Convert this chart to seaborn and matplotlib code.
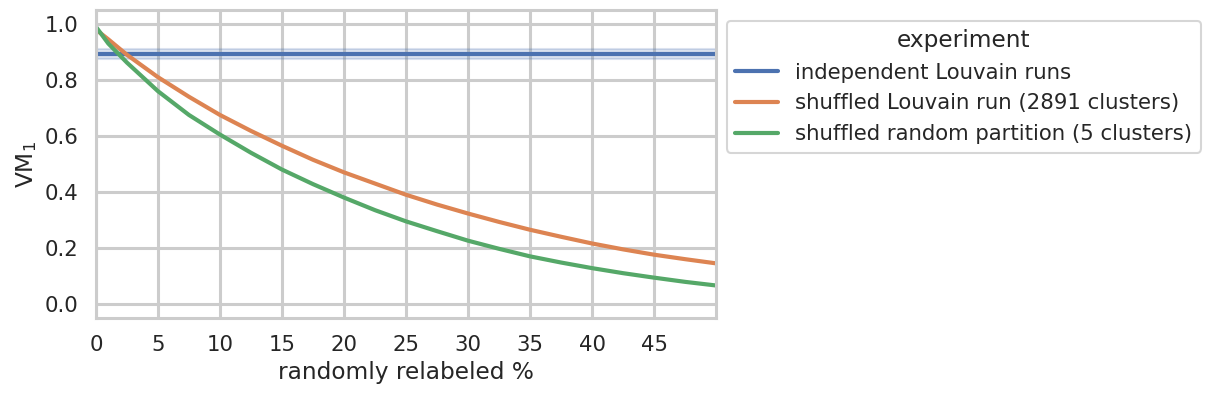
import numpy as np
import pandas as pd
import matplotlib
matplotlib.use("Agg")
import matplotlib.pyplot as plt
import seaborn as sns

# data
relabeled = [0, 1, 2.5, 5, 7.5, 10, 12.5, 15, 17.5, 20, 22.5, 25,
             27.5, 30, 32.5, 35, 37.5, 40, 42.5, 45, 47.5, 50]
louvain_shuffled = [0.98, 0.945, 0.89, 0.81, 0.74, 0.675, 0.618, 0.565, 0.515, 0.47, 0.43, 0.39,
                    0.355, 0.323, 0.293, 0.265, 0.24, 0.216, 0.195, 0.176, 0.16, 0.145]
random_shuffled = [0.99, 0.93, 0.862, 0.76, 0.675, 0.605, 0.54, 0.48, 0.428, 0.38, 0.335, 0.295,
                   0.26, 0.226, 0.197, 0.17, 0.148, 0.128, 0.11, 0.094, 0.079, 0.066]
independent_runs = [0.876, 0.885, 0.893, 0.901, 0.910]

labels = ['independent Louvain runs',
          'shuffled Louvain run (2891 clusters)',
          'shuffled random partition (5 clusters)']

rows = []
for x in relabeled:
    for v in independent_runs:
        rows.append((x, v, labels[0]))
for x, v in zip(relabeled, louvain_shuffled):
    rows.append((x, v, labels[1]))
for x, v in zip(relabeled, random_shuffled):
    rows.append((x, v, labels[2]))
df = pd.DataFrame(rows, columns=['randomly relabeled %', 'VM', 'experiment'])

sns.set_theme(context='talk', style='whitegrid', font_scale=0.93,
              rc={'grid.linewidth': 2.2, 'axes.linewidth': 2.2})

fig = plt.figure(figsize=(12.14, 3.98), dpi=100)
ax = fig.add_axes([0.079, 0.201, 0.511, 0.774])
sns.lineplot(data=df, x='randomly relabeled %', y='VM', hue='experiment',
             hue_order=labels, errorbar=('pi', 100), linewidth=3, ax=ax)
ax.set_xlim(0, 50)
ax.set_ylim(-0.05, 1.05)
ax.set_xticks(np.arange(0, 50, 5))
ax.set_yticks(np.arange(0, 1.01, 0.2))
ax.set_ylabel('VM$_1$')
sns.move_legend(ax, 'upper left', bbox_to_anchor=(1, 1))
for line in ax.get_legend().get_lines():
    line.set_linewidth(3)
fig.savefig('out.png', dpi=100)
